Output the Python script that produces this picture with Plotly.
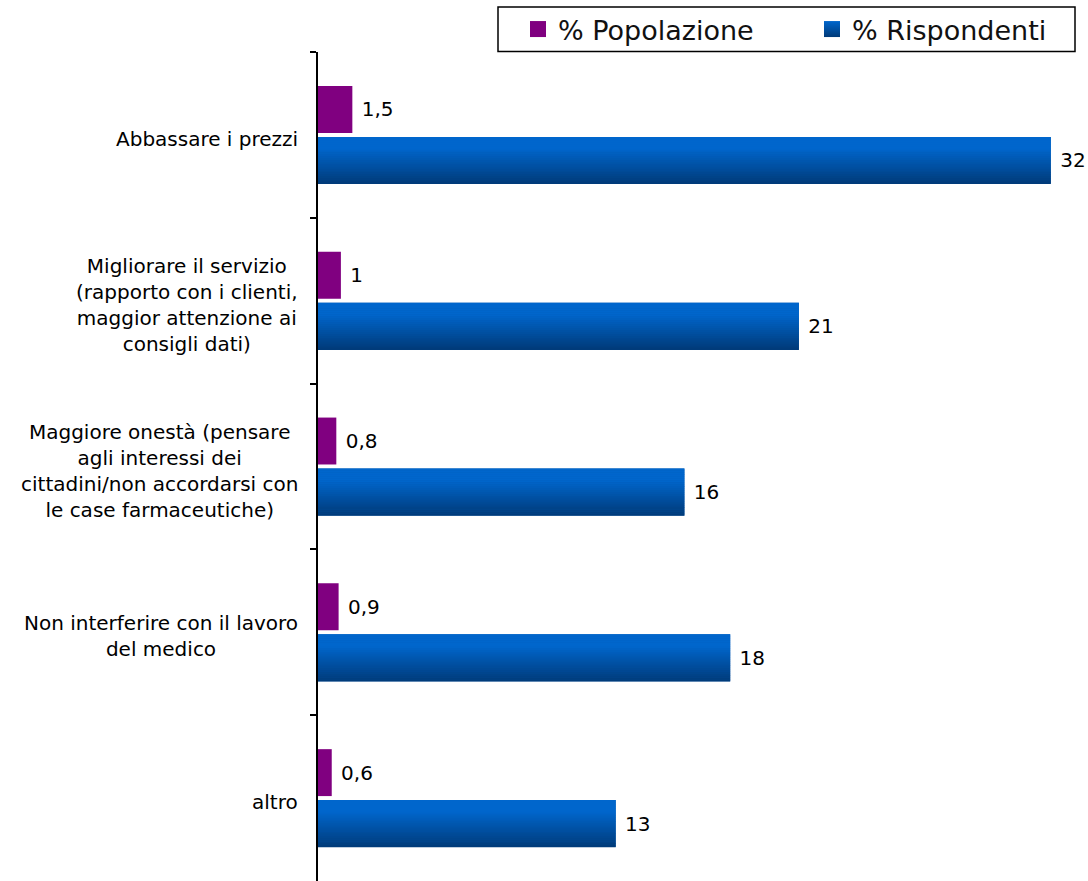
import plotly.graph_objects as go

categories = [
    "Abbassare i prezzi",
    "Migliorare il servizio<br>(rapporto con i clienti,<br>maggior attenzione ai<br>consigli dati)",
    "Maggiore onestà (pensare<br>agli interessi dei<br>cittadini/non accordarsi con<br>le case farmaceutiche)",
    "Non interferire con il lavoro<br>del medico",
    "altro",
]
popolazione = [1.5, 1, 0.8, 0.9, 0.6]
rispondenti = [32, 21, 16, 18, 13]
series_names = ["% Popolazione", "% Rispondenti"]

FONT = "DejaVu Sans"
PURPLE = "#800080"
BAR_W = 0.283
OFF_P = -0.2952
OFF_B = 0.0121

W, H = 1088, 881
ML, MR, MT, MB = 318, 0, 52, 0
PW, PH = W - ML - MR, H - MT - MB


def fmt(v):
    s = ("%g" % v).replace(".", ",")
    return " " + s


def px_x(px):
    return (px - ML) / PW


def px_y(py):
    return (H - MB - py) / PH


fig = go.Figure()

fig.add_trace(go.Bar(
    name=series_names[0], y=categories, x=popolazione, orientation="h",
    marker=dict(color=PURPLE, line=dict(width=0)),
    width=BAR_W, offset=OFF_P,
    text=[fmt(v) for v in popolazione], textposition="outside",
    textfont=dict(family=FONT, size=20, color="black"),
    constraintext="none", cliponaxis=False, showlegend=False,
))

fig.add_trace(go.Bar(
    name=series_names[1], y=categories, x=rispondenti, orientation="h",
    marker=dict(color="#0058B0", line=dict(width=0)),
    width=BAR_W, offset=OFF_B,
    text=[fmt(v) for v in rispondenti], textposition="outside",
    textfont=dict(family=FONT, size=20, color="black"),
    constraintext="none", cliponaxis=False, showlegend=False,
))

# vertical gradient on the blue bars (styling strips)
K = 24
top = (0, 102, 204)
bot = (0, 58, 120)
sw = BAR_W / K
for i in range(K):
    t = (i + 0.5) / K
    if t < 0.25:
        c = top
    else:
        u = (t - 0.25) / 0.75
        c = tuple(int(round(top[j] + (bot[j] - top[j]) * u)) for j in range(3))
    fig.add_trace(go.Bar(
        y=categories, x=rispondenti, orientation="h",
        marker=dict(color="rgb(%d,%d,%d)" % c, line=dict(width=0)),
        width=sw * 1.15, offset=OFF_B + i * sw,
        showlegend=False, hoverinfo="skip",
    ))

# legend-only entries
fig.add_trace(go.Scatter(
    name=series_names[0], x=[None], y=[None], mode="markers",
    marker=dict(symbol="square", size=17, color=PURPLE),
))
fig.add_trace(go.Scatter(
    name=series_names[1], x=[None], y=[None], mode="markers",
    marker=dict(symbol="square", size=17, color="#0066CC",
                gradient=dict(type="vertical", color="#003A78")),
))

for cat in categories:
    fig.add_annotation(
        x=0, xref="paper", xanchor="right", xshift=-18,
        y=cat, yref="y", yanchor="middle", yshift=-4,
        text=cat, showarrow=False, align="center",
        font=dict(family=FONT, size=20, color="black"),
    )

# legend frame
fig.add_shape(
    type="rect", xref="paper", yref="paper",
    x0=px_x(498), x1=px_x(1075), y0=px_y(51.5), y1=px_y(7),
    line=dict(color="black", width=1.5), fillcolor="white", layer="below",
)

fig.update_layout(
    width=W, height=H,
    margin=dict(l=ML, r=MR, t=MT, b=MB, autoexpand=False),
    paper_bgcolor="white", plot_bgcolor="white",
    barmode="overlay",
    font=dict(family=FONT, size=20, color="black"),
    showlegend=True,
    legend=dict(
        orientation="h",
        xref="container", yref="container",
        x=518 / W, xanchor="left",
        y=1 - 29.5 / H, yanchor="middle",
        borderwidth=0, bgcolor="rgba(0,0,0,0)",
        font=dict(family=FONT, size=27, color="#111111"),
        entrywidth=249, entrywidthmode="pixels",
        traceorder="normal", itemsizing="trace",
    ),
    xaxis=dict(range=[0, PW / 22.9], visible=False),
    yaxis=dict(
        type="category", range=[4.5, -0.5],
        showline=True, linecolor="black", linewidth=1.5,
        ticks="outside", ticklen=6, tickcolor="black", tickwidth=1.5,
        tickson="boundaries", showticklabels=False,
        showgrid=False, zeroline=False,
    ),
)

fig.write_html(
    "out.html",
    config={"displayModeBar": False},
    post_script="document.body.style.margin='0';document.body.style.overflow='hidden';",
)
